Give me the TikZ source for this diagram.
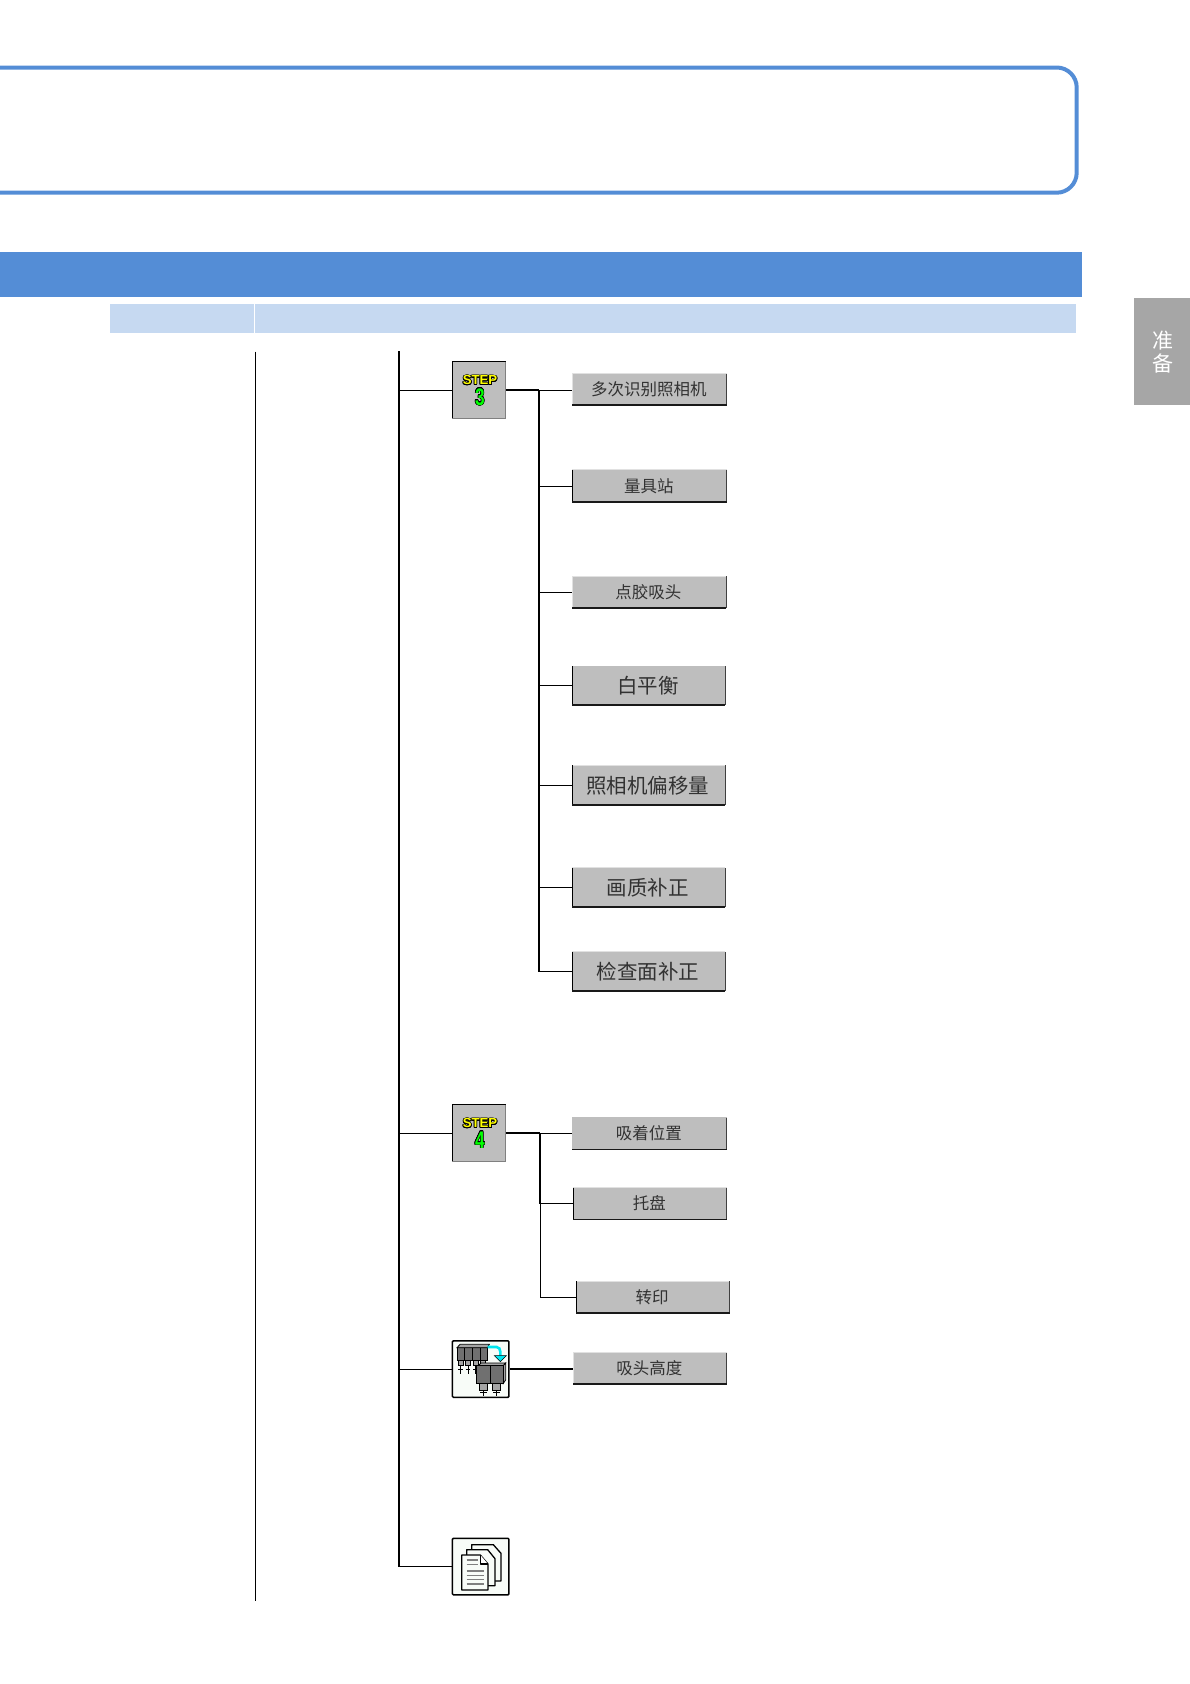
\documentclass[tikz,border=0pt]{standalone}
\usepackage{fontspec}
\usepackage{contour}
\setmainfont{Liberation Sans}
\newfontfamily\cjk{Noto Sans CJK SC}
\contourlength{0.7pt}
\contournumber{16}
\definecolor{mainblue}{RGB}{84,141,214}
\definecolor{lightblue}{RGB}{198,217,241}
\definecolor{tabgrey}{RGB}{166,166,166}
\definecolor{btngrey}{RGB}{190,190,190}
\definecolor{btnlight}{RGB}{225,225,225}
\definecolor{btntext}{RGB}{50,50,50}
\definecolor{iconbg}{RGB}{248,252,248}
\definecolor{stepyellow}{RGB}{255,255,0}
\definecolor{stepgreen}{RGB}{0,255,0}
\definecolor{cyanarrow}{RGB}{0,230,240}
\definecolor{headgrey}{RGB}{112,112,112}
\definecolor{headlight}{RGB}{165,165,165}
\tikzset{
  btnbody/.style={fill=btngrey,inner sep=0pt,text=btntext,font=\cjk},
  stepbox/.style={fill=btngrey,inner sep=0pt,minimum width=53.4pt,minimum height=57pt},
  iconbox/.style={fill=iconbg,draw=black,line width=1.5pt,rounded corners=1pt,inner sep=0pt,minimum width=56.5pt,minimum height=56.5pt},
  wire/.style={black,line width=1pt},
  wirethick/.style={black,line width=1.7pt},
  head/.style={fill=headgrey,draw=black,line width=.8pt},
  pageshape/.style={fill=iconbg,draw=black,line width=1.3pt,line join=round},
  textline/.style={draw=gray,line width=1.2pt}
}
% name, cx, cy, w, h, font size, text, left colour, top colour
\newcommand{\btnnode}[9]{%
  \node[btnbody,minimum width=#4pt,minimum height=#5pt] (#1) at (#2,#3)
    {\hspace*{-1.5pt}\fontsize{#6}{#6}\selectfont #7};
  \draw[#9,line width=1pt] (#1.north west) -- (#1.north east);
  \draw[#8,line width=1pt] (#1.north west) -- (#1.south west);
  \draw[black!75,line width=1.1pt] (#1.north east) -- (#1.south east);
  \draw[black!90,line width=1.7pt] (#1.south west) -- (#1.south east);
}
\newcommand{\stepnode}[3]{%
  \node[stepbox] (#1) at (479,#2) {};
  \draw[black,line width=1pt] (#1.south west) -- (#1.north west) -- (#1.north east);
  \draw[gray,line width=1pt] (#1.north east) -- (#1.south east) -- (#1.south west);
  \node[inner sep=0pt,font=\bfseries\fontsize{13.2}{13.2}\selectfont] (#1t) at (480,#2-9.5)
    {\contour{black}{\textcolor{stepyellow}{STEP}}};
  \node[inner sep=0pt,font=\bfseries\fontsize{24}{24}\selectfont] (#1n) at (479.8,#2+7)
    {\scalebox{.72}[1]{\contour{black}{\textcolor{stepgreen}{#3}}}};
}
\begin{document}
\begin{tikzpicture}[x=1pt,y=-1pt]
\useasboundingbox (0,0) rectangle (1190,1684);
\clip (0,0) rectangle (1190,1684);
% header frames
\draw[mainblue,line width=4pt,rounded corners=20pt] (-20,67.5) -- (1076.7,67.5) -- (1076.7,192.7) -- (-20,192.7);
\fill[mainblue] (0,252) rectangle (1082,297);
\fill[lightblue] (110,304) rectangle (253.8,333);
\fill[lightblue] (255,304) rectangle (1076,333);
\fill[tabgrey] (1134,298) rectangle (1190,405);
\node[text=white,font=\cjk\fontsize{21}{23}\selectfont,align=center,inner sep=0pt] (tab) at (1163,352) {准\\备};
% column rule
\coordinate (ruletop) at (255.6,351.5);
\coordinate (rulebot) at (255.6,1601);
\draw[black,line width=1pt] (ruletop) -- (rulebot);
% step boxes
\stepnode{sA}{390.2}{3}
\stepnode{sB}{1133.2}{4}
\node[iconbox] (robot) at (480.7,1369) {};
\node[iconbox] (docs) at (480.7,1566.5) {};
% buttons
\btnnode{bA}{649.5}{389.5}{154.4}{31}{16.5}{多次识别照相机}{btnlight}{btnlight}
\btnnode{bB}{649.5}{486}{154.4}{31.7}{16.5}{量具站}{black}{btnlight}
\btnnode{bC}{649.2}{592}{153.6}{31}{16.5}{点胶吸头}{btnlight}{btnlight}
\btnnode{bD}{648.7}{685.8}{152.7}{38.3}{20.5}{白平衡}{black}{btngrey}
\btnnode{bE}{648.7}{785.3}{152.7}{39.3}{20.5}{照相机偏移量}{black}{btnlight}
\btnnode{bF}{648.7}{887.3}{152.7}{38.7}{20.5}{画质补正}{black}{btnlight}
\btnnode{bG}{648.7}{971.5}{152.7}{39}{20.5}{检查面补正}{black}{btnlight}
\btnnode{bH}{649.5}{1133.6}{154.4}{31.3}{16.5}{吸着位置}{btngrey}{btngrey}
\btnnode{bI}{650}{1203.5}{153.4}{31.6}{16.5}{托盘}{black}{btnlight}
\btnnode{bJ}{652.8}{1297.3}{153}{31.6}{16.5}{转印}{black}{btnlight}
\btnnode{bK}{650}{1368.5}{153.4}{31}{16.5}{吸头高度}{btnlight}{btnlight}
% main trunk
\coordinate (trunk) at (399.3,351);
\draw[wirethick] (trunk) |- (docs.west);
\draw[wire] (sA.west -| trunk) -- (sA.west);
\draw[wire] (sB.west -| trunk) -- (sB.west);
\draw[wire] (robot.west -| trunk) -- (robot.west);
% step 3 branch
\coordinate (jA) at (539,390.2);
\draw[wirethick] (sA.east) -- (jA);
\draw[wire] (jA) -- (bA.west |- jA);
\draw[wirethick] (jA) |- (bG.west);
\foreach \b in {bB,bC,bD,bE,bF}{\draw[wire] (\b.west -| jA) -- (\b.west);}
% step 4 branch
\coordinate (jB) at (540,1133.2);
\draw[wirethick] (sB.east) -- (jB);
\draw[wire] (jB) -- (bH.west |- jB);
\draw[wirethick] (jB) |- (bI.west);
\draw[wire] (jB) |- (bJ.west);
\draw[wirethick] (robot.east) -- (bK.west |- robot.east);
% robot icon
\begin{scope}[shift={(445,1335)},x=.3333pt,y=-.3333pt]
  \foreach \h in {0,1,2,3}{
    \draw[black,line width=1pt] (47+\h*22,85) -- (47+\h*22,118);
    \draw[black,line width=.9pt] (40+\h*22,103) -- (54+\h*22,103);
    \draw[head] (36+\h*23,38) rectangle (59+\h*23,75);
    \draw[head,fill=headlight] (40+\h*22,75) rectangle (55+\h*22,90);
  }
  \draw[head,fill=headlight] (36,38) -- (45,28) -- (133,28) -- (128,38) -- cycle;
  \draw[cyanarrow,line width=2.6pt] (128,36) -- (155,36) to[out=0,in=90] (166,50) -- (166,62);
  \fill[cyanarrow,draw=black,line width=.5pt] (148,62) -- (184,62) -- (166,80) -- cycle;
  \draw[head,fill=headlight] (100,92) -- (108,84) -- (182,84) -- (175,92) -- cycle;
  \draw[head,fill=headlight] (175,92) -- (182,84) -- (182,135) -- (175,145) -- cycle;
  \draw[head] (95,92) rectangle (135,145);
  \draw[head] (135,92) rectangle (175,145);
  \foreach \h in {0,1}{
    \draw[head,fill=headlight] (103+\h*39,145) rectangle (127+\h*39,165);
    \draw[black,line width=1.5pt] (115+\h*39,165) -- (115+\h*39,182);
    \draw[black,line width=1.2pt] (105+\h*39,172) -- (125+\h*39,172);
  }
\end{scope}
% document icon
\begin{scope}[shift={(445,1532)},x=.3333pt,y=-.3333pt]
  \draw[pageshape] (80,38) -- (145,38) -- (168,64) -- (168,147) -- (80,147) -- cycle;
  \draw[pageshape] (65,53) -- (128,53) -- (150,80) -- (150,161) -- (65,161) -- cycle;
  \draw[pageshape] (50,69) -- (106,69) -- (129,96) -- (129,174) -- (50,174) -- cycle;
  \draw[pageshape,fill=white] (106,69) -- (106,96) -- (129,96);
  \foreach \ly/\lx in {84/98,98/98,117/117,130/117,143/117,156/117}{
    \draw[textline] (65,\ly) -- (\lx,\ly);
  }
\end{scope}
\end{tikzpicture}
\end{document}
